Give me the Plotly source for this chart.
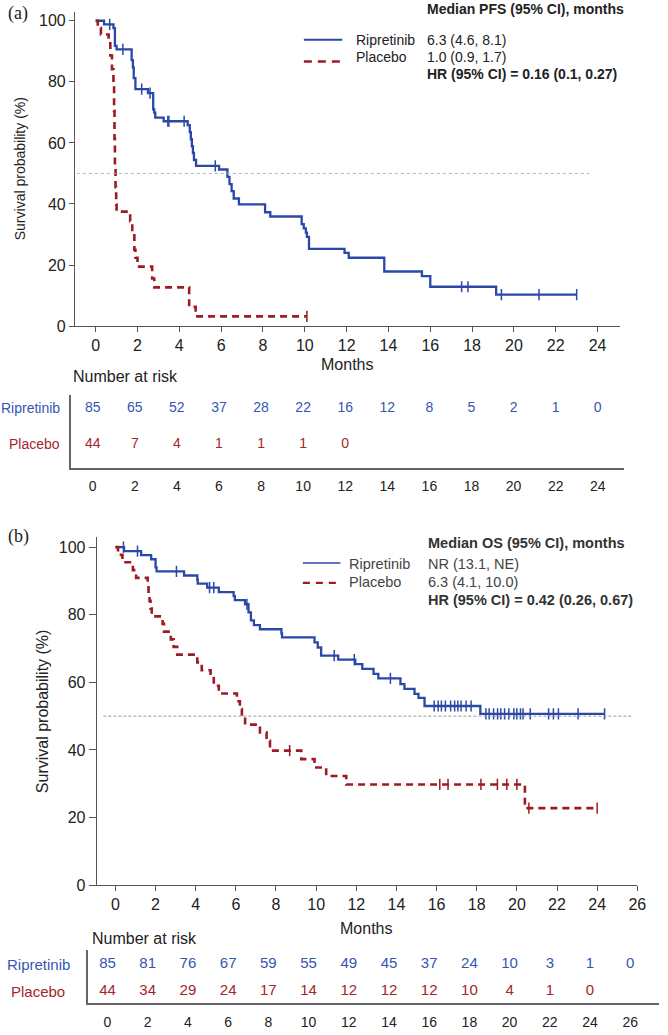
import numpy as np
import plotly.graph_objects as go

W, H = 668, 1035

# ---- panel (a): progression-free survival ----
pfs_rip_t = [0, 0.4, 0.85, 0.92, 1.0, 1.72, 1.78, 1.82, 1.9, 2.5, 2.75, 2.8, 2.85, 3.25,
             4.4, 4.5, 4.55, 4.6, 4.65, 4.7, 4.8, 5.9, 6.3, 6.4, 6.5, 6.6, 6.85, 8.1, 8.35,
             9.85, 9.95, 10.05, 10.1, 10.2, 11.9, 12.1, 13.8, 15.6, 16.0, 19.15]
pfs_rip_s = [100, 98.8, 97.6, 91.8, 90.6, 87.1, 84.7, 81.2, 77.6, 76.3, 71.0, 69.9, 68.3, 67.1,
             65.8, 63.5, 61.2, 58.9, 56.7, 54.4, 52.5, 51.3, 48.9, 46.5, 44.2, 41.8, 39.9, 37.3, 35.9,
             33.4, 32.0, 30.6, 29.2, 25.3, 24.0, 22.4, 17.9, 16.4, 12.9, 10.3]
pfs_rip_cens = [0.67, 1.3, 2.2, 2.6, 3.45, 3.5, 4.23, 5.72, 17.5, 17.8, 19.4, 21.2, 23.0]
pfs_rip_end = 23.0

pfs_pla_t = [0, 0.1, 0.25, 0.62, 0.7, 0.78, 0.85, 0.88, 0.9, 0.92, 0.95, 0.98, 1.0,
             1.65, 1.75, 1.85, 1.9, 2.0, 2.7, 2.8, 4.47, 4.78]
pfs_pla_s = [100, 97.7, 95.5, 93.2, 88.6, 84.1, 79.5, 70.5, 61.4, 52.3, 45.5, 39.8, 37.5,
             34.4, 31.5, 25.0, 22.4, 19.5, 15.6, 12.7, 6.3, 3.2]
pfs_pla_cens = [10.1]
pfs_pla_end = 10.1

risk_a_months = [0, 2, 4, 6, 8, 10, 12, 14, 16, 18, 20, 22, 24]
risk_a_rip = [85, 65, 52, 37, 28, 22, 16, 12, 8, 5, 2, 1, 0]
risk_a_pla = [44, 7, 4, 1, 1, 1, 0]

# ---- panel (b): overall survival ----
os_rip_t = [0, 0.43, 1.28, 1.78, 2.0, 2.05, 3.42, 4.08, 4.1, 4.57, 5.15, 5.89, 5.95, 6.46,
            6.63, 6.75, 6.9, 7.2, 8.27, 8.3, 9.92, 10.08, 10.25, 11.1, 11.95, 12.3, 12.86, 13.1,
            14.2, 14.4, 14.9, 15.1, 15.4, 18.18]
os_rip_s = [100, 98.8, 97.6, 96.4, 94.0, 92.8, 91.6, 90.4, 89.2, 88.0, 86.7, 85.5, 84.3, 83.1,
            80.7, 78.3, 76.9, 75.7, 74.5, 73.3, 71.8, 70.3, 67.9, 66.7, 65.4, 64.0, 62.5, 61.2,
            59.5, 58.1, 56.6, 55.4, 53.0, 50.7]
os_rip_cens = [0.4, 1.1, 3.04, 4.69, 4.9, 6.55, 10.9, 11.9, 13.7, 15.88, 16.08, 16.24, 16.44,
               16.7, 16.9, 17.06, 17.22, 17.47, 17.72, 18.46, 18.62, 18.84, 19.04, 19.2, 19.39,
               19.6, 19.85, 20.0, 20.18, 20.31, 20.67, 21.58, 21.82, 22.07, 23.05, 24.37]
os_rip_end = 24.37

os_pla_t = [0, 0.13, 0.35, 0.87, 1.03, 1.61, 1.65, 1.7, 1.75, 1.81, 2.35, 2.42, 2.76, 2.9, 3.08,
            4.08, 4.3, 4.74, 4.9, 5.15, 6.05, 6.2, 6.3, 6.46, 7.2, 7.53, 7.7, 9.26, 9.92, 10.5,
            11.5, 20.4]
os_pla_s = [100, 97.7, 95.5, 93.2, 90.9, 88.6, 86.4, 84.1, 81.8, 79.5, 77.3, 75.0, 72.7, 70.5, 68.2,
            65.9, 63.6, 61.3, 59.0, 56.7, 54.4, 52.1, 49.8, 47.5, 45.2, 42.7, 39.8, 37.3, 34.8, 32.3,
            29.8, 22.8]
os_pla_cens = [8.68, 16.16, 16.57, 18.21, 19.03, 19.5, 20.0, 20.6, 24.0]
os_pla_end = 24.0

risk_b_months = [0, 2, 4, 6, 8, 10, 12, 14, 16, 18, 20, 22, 24, 26]
risk_b_rip = [85, 81, 76, 67, 59, 55, 49, 45, 37, 24, 10, 3, 1, 0]
risk_b_pla = [44, 34, 29, 24, 17, 14, 12, 12, 12, 10, 4, 1, 0]

# ---- style ----
FONT = "Liberation Sans, Arial, sans-serif"
SERIF = "Liberation Serif, Times New Roman, serif"
BLUE = "#2a48a8"
RED = "#9b1c22"
BLUE_TXT = "#3556b4"
RED_TXT = "#a3262b"
AXIS = "#555555"
TXT = "#222222"


def fx(px):
    return px / W


def fy(py):
    return 1 - py / H


fig = go.Figure()


def km(t, s, end, cens, color, dash, width, xa, ya):
    t = np.array(t)
    s = np.array(s)
    fig.add_trace(go.Scatter(
        x=np.append(t, end), y=np.append(s, s[-1]), mode="lines",
        line=dict(color=color, width=width, dash=dash, shape="hv"),
        xaxis=xa, yaxis=ya, showlegend=False, hoverinfo="skip"))
    idx = np.searchsorted(t, cens, side="right") - 1
    fig.add_trace(go.Scatter(
        x=cens, y=s[idx], mode="markers",
        marker=dict(symbol="line-ns", size=8, line=dict(color=color, width=1.5)),
        xaxis=xa, yaxis=ya, showlegend=False, hoverinfo="skip"))


def risk_row(months, vals, row, color, size, xa, ya):
    fig.add_trace(go.Scatter(
        x=months[:len(vals)], y=[row] * len(vals), mode="text",
        text=[str(v) for v in vals],
        textfont=dict(color=color, size=size, family=FONT),
        xaxis=xa, yaxis=ya, showlegend=False, hoverinfo="skip"))


km(pfs_rip_t, pfs_rip_s, pfs_rip_end, pfs_rip_cens, BLUE, "solid", 2.3, "x", "y")
km(pfs_pla_t, pfs_pla_s, pfs_pla_end, pfs_pla_cens, RED, "7px,5px", 2.6, "x", "y")
km(os_rip_t, os_rip_s, os_rip_end, os_rip_cens, BLUE, "solid", 2.3, "x3", "y3")
km(os_pla_t, os_pla_s, os_pla_end, os_pla_cens, RED, "7px,5px", 2.6, "x3", "y3")

risk_row(risk_a_months, risk_a_rip, 2, BLUE_TXT, 14, "x2", "y2")
risk_row(risk_a_months, risk_a_pla, 1, RED_TXT, 14, "x2", "y2")
risk_row(risk_b_months, risk_b_rip, 2, BLUE_TXT, 15, "x4", "y4")
risk_row(risk_b_months, risk_b_pla, 1, RED_TXT, 15, "x4", "y4")


def main_x(dom, rng, anchor, ticks):
    return dict(domain=dom, range=rng, anchor=anchor, tickvals=ticks, ticks="outside",
                ticklen=5, tickcolor=AXIS, showline=True, linecolor=AXIS, linewidth=1,
                showgrid=False, zeroline=False,
                tickfont=dict(size=16, family=FONT, color=TXT))


def main_y(dom, anchor, ticklen):
    return dict(domain=dom, range=[0, 102.9], anchor=anchor, tickvals=list(range(0, 101, 20)),
                ticks="outside", ticklen=ticklen, tickcolor=AXIS, showline=True,
                linecolor=AXIS, linewidth=1, showgrid=False, zeroline=False,
                tickfont=dict(size=16, family=FONT, color=TXT))


def table_x(dom, rng, anchor, ticks):
    return dict(domain=dom, range=rng, anchor=anchor, tickvals=ticks, ticks="outside",
                ticklen=5, tickcolor="rgba(0,0,0,0)", showline=True, linecolor="#666666",
                linewidth=1.5, showgrid=False, zeroline=False,
                tickfont=dict(size=14, family=FONT, color=TXT))


def table_y(dom, rng, anchor):
    return dict(domain=dom, range=rng, anchor=anchor, showticklabels=False, ticks="",
                showline=True, linecolor="#666666", linewidth=1.5, showgrid=False,
                zeroline=False)


fig.update_layout(
    width=W, height=H, autosize=False,
    margin=dict(l=0, r=0, t=0, b=0),
    paper_bgcolor="white", plot_bgcolor="white",
    font=dict(family=FONT, color=TXT),
    xaxis=main_x([fx(76), fx(628)], [-0.99, 25.05], "y", list(range(0, 25, 2))),
    yaxis=main_y([fy(329), fy(12)], "x", 5),
    xaxis2=table_x([fx(72), fx(633)], [-1.03, 25.27], "y2", list(range(0, 25, 2))),
    yaxis2=table_y([fy(472), fy(398)], [0.333, 2.389], "x2"),
    xaxis3=main_x([fx(98), fx(646)], [-0.934, 26.0], "y3", list(range(0, 27, 2))),
    yaxis3=main_y([fy(893), fy(542)], "x3", 7),
    xaxis4=table_x([fx(89), 1.0], [-0.98, 27.43], "y4", list(range(0, 27, 2))),
    yaxis4=table_y([fy(1012), fy(958)], [0.556, 2.556], "x4"),
)

shapes = [
    dict(type="line", xref="x", yref="y", x0=-0.9, x1=23.6, y0=50, y1=50,
         line=dict(color="#b5b5b5", width=1, dash="dot")),
    dict(type="line", xref="x3", yref="y3", x0=-0.6, x1=25.7, y0=50, y1=50,
         line=dict(color="#9a9a9a", width=1, dash="3px,2px")),
    # legend samples
    dict(type="line", xref="paper", yref="paper", x0=fx(308), x1=fx(347), y0=fy(40), y1=fy(40),
         line=dict(color=BLUE, width=2)),
    dict(type="line", xref="paper", yref="paper", x0=fx(308), x1=fx(347), y0=fy(62), y1=fy(62),
         line=dict(color=RED, width=2.5, dash="8px,6px")),
    dict(type="line", xref="paper", yref="paper", x0=fx(307), x1=fx(345), y0=fy(568), y1=fy(568),
         line=dict(color=BLUE, width=1.6)),
    dict(type="line", xref="paper", yref="paper", x0=fx(307), x1=fx(345), y0=fy(588), y1=fy(588),
         line=dict(color=RED, width=2.2, dash="7px,6px")),
]
fig.update_layout(shapes=shapes)


def note(text, px, py, size=14, color=TXT, xanchor="left", family=FONT, angle=0):
    fig.add_annotation(text=text, x=fx(px), y=fy(py), xref="paper", yref="paper",
                       xanchor=xanchor, yanchor="middle", showarrow=False, textangle=angle,
                       font=dict(size=size, color=color, family=family))


# panel labels
note("(a)", 6, 14, size=18, family=SERIF)
note("(b)", 6, 541, size=18, family=SERIF)

# axis titles
note("Survival probability (%)", 20, 170, size=14, xanchor="center", angle=-90)
note("Survival probability (%)", 43, 717, size=16, xanchor="center", angle=-90)
note("Months", 352, 368, size=16, xanchor="center")
note("Months", 371, 937, size=16, xanchor="center")

# legend (a)
note("<b>Median PFS (95% CI), months</b>", 431, 9, size=14)
note("Ripretinib", 359, 40, size=14)
note("Placebo", 359, 57, size=14)
note("6.3 (4.6, 8.1)", 431, 40, size=14)
note("1.0 (0.9, 1.7)", 431, 57, size=14)
note("<b>HR (95% CI) = 0.16 (0.1, 0.27)</b>", 431, 75, size=14)

# legend (b)
note("<b>Median OS (95% CI), months</b>", 432, 548, size=14.5, color="#333333")
note("Ripretinib", 352, 569, size=14.5, color="#444444")
note("Placebo", 352, 587, size=14.5, color="#444444")
note("NR (13.1, NE)", 432, 569, size=14.5, color="#444444")
note("6.3 (4.1, 10.0)", 432, 587, size=14.5, color="#444444")
note("<b>HR (95% CI) = 0.42 (0.26, 0.67)</b>", 432, 605, size=14.5, color="#333333")

# number at risk tables
note("Number at risk", 72, 380, size=16)
note("Ripretinib", 63, 412, size=14, color=BLUE_TXT, xanchor="right")
note("Placebo", 63, 448, size=14, color=RED_TXT, xanchor="right")
note("Number at risk", 91, 947, size=16)
note("Ripretinib", 39, 973, size=15, color=BLUE_TXT, xanchor="center")
note("Placebo", 39, 1000, size=15, color=RED_TXT, xanchor="center")

# the page body has a default 8px margin; remove it so the figure fills the window
fig.write_html("out.html", config={"displayModeBar": False},
               post_script="document.body.style.margin='0';")
